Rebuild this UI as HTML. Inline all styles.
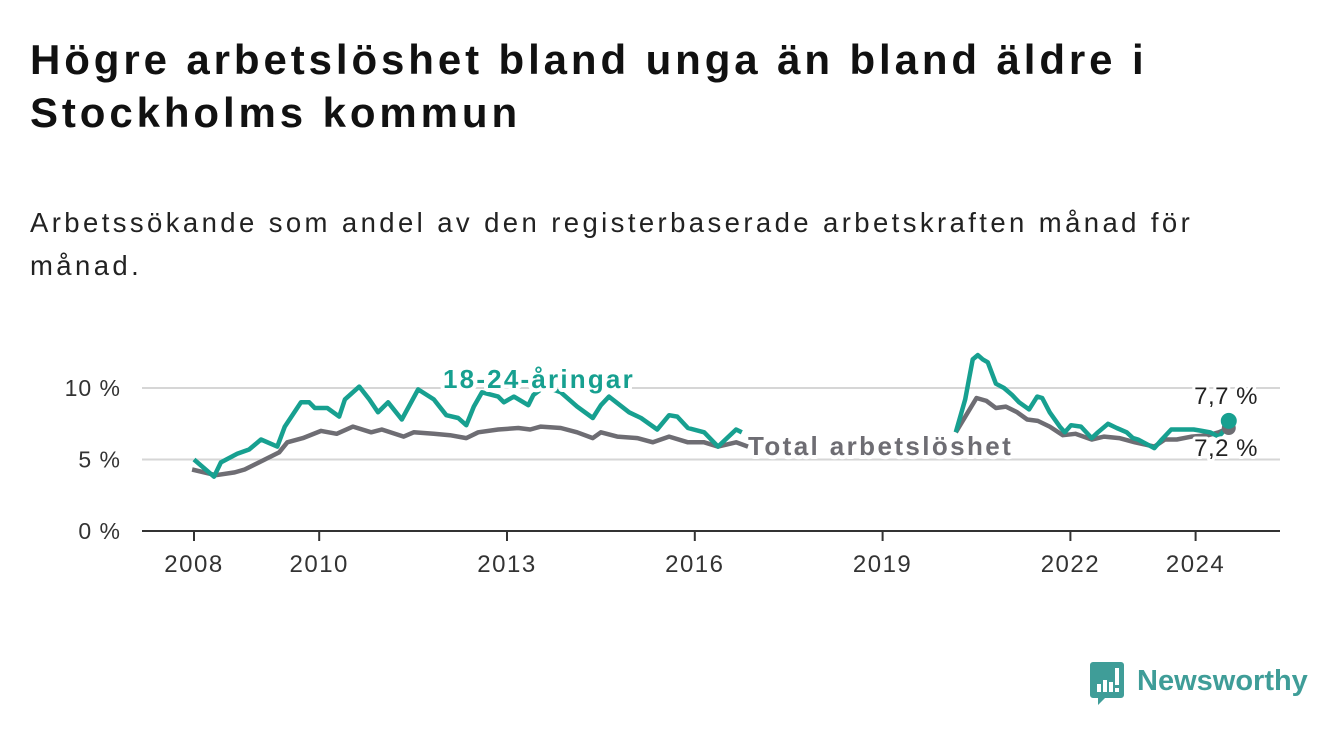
<!DOCTYPE html>
<html><head><meta charset="utf-8">
<style>
body{margin:0;background:#fff;width:1340px;height:734px;overflow:hidden;font-family:"Liberation Sans",sans-serif;}
#title{position:absolute;left:30px;top:33px;font-size:42px;font-weight:bold;line-height:53px;color:#111;margin:0;letter-spacing:3.9px;}
#subtitle{position:absolute;left:30px;top:201px;font-size:27.5px;line-height:43px;color:#222;margin:0;letter-spacing:3.4px;}
svg{position:absolute;left:0;top:0;}
</style></head>
<body>
<h1 id="title">Högre arbetslöshet bland unga än bland äldre i<br>Stockholms kommun</h1>
<p id="subtitle">Arbetssökande som andel av den registerbaserade arbetskraften månad för<br>månad.</p>
<svg id="chart" width="1340" height="734"></svg>
<script>
const yTicks=[0,5,10];
const yTickLabels=["0 %","5 %","10 %"];
const xTicks=[2008,2010,2013,2016,2019,2022,2024];
const youthYears=[2008.0,2008.32,2008.43,2008.69,2008.88,2009.07,2009.33,2009.45,2009.71,2009.84,2009.93,2010.13,2010.32,2010.41,2010.64,2010.8,2010.94,2011.1,2011.32,2011.58,2011.83,2012.03,2012.22,2012.35,2012.47,2012.6,2012.86,2012.95,2013.11,2013.34,2013.42,2013.6,2013.86,2014.12,2014.37,2014.5,2014.63,2014.95,2015.14,2015.4,2015.59,2015.72,2015.89,2016.15,2016.37,2016.66,2016.75,null,2020.17,2020.32,2020.44,2020.52,2020.6,2020.68,2020.81,2020.94,2021.07,2021.18,2021.34,2021.47,2021.55,2021.67,2021.83,2021.91,2022.01,2022.17,2022.34,2022.44,2022.6,2022.74,2022.9,2023.0,2023.08,2023.34,2023.46,2023.61,2023.83,2023.97,2024.1,2024.23,2024.37,2024.47,2024.53];
const youthValues=[5.0,3.8,4.8,5.4,5.7,6.4,5.9,7.3,9.0,9.0,8.6,8.6,8.0,9.2,10.1,9.2,8.3,9.0,7.8,9.9,9.2,8.1,7.9,7.4,8.7,9.7,9.4,9.0,9.4,8.8,9.5,10.1,9.7,8.7,7.9,8.8,9.4,8.3,7.9,7.1,8.1,8.0,7.2,6.9,5.9,7.1,6.9,null,6.9,9.2,12.0,12.3,12.0,11.8,10.3,10.0,9.5,9.0,8.5,9.4,9.3,8.3,7.3,6.9,7.4,7.3,6.5,6.9,7.5,7.2,6.9,6.5,6.4,5.8,6.4,7.1,7.1,7.1,7.0,6.9,6.6,7.1,7.7];
const totalYears=[2007.97,2008.35,2008.65,2008.81,2009.04,2009.36,2009.49,2009.74,2010.03,2010.28,2010.54,2010.83,2011.0,2011.35,2011.51,2011.83,2012.09,2012.35,2012.54,2012.86,2013.18,2013.37,2013.54,2013.86,2014.12,2014.37,2014.5,2014.76,2015.08,2015.33,2015.59,2015.89,2016.15,2016.37,2016.66,2016.85,null,2020.17,2020.5,2020.66,2020.81,2020.97,2021.15,2021.31,2021.48,2021.67,2021.88,2022.08,2022.34,2022.54,2022.78,2023.03,2023.34,2023.51,2023.7,2023.94,2024.2,2024.37,2024.53];
const totalValues=[4.3,3.9,4.1,4.3,4.8,5.5,6.2,6.5,7.0,6.8,7.3,6.9,7.1,6.6,6.9,6.8,6.7,6.5,6.9,7.1,7.2,7.1,7.3,7.2,6.9,6.5,6.9,6.6,6.5,6.2,6.6,6.2,6.2,5.9,6.2,5.9,null,6.9,9.3,9.1,8.6,8.7,8.3,7.8,7.7,7.3,6.7,6.8,6.4,6.6,6.5,6.2,5.9,6.4,6.4,6.6,6.7,6.9,7.2];

const NS="http://www.w3.org/2000/svg";
const svg=document.getElementById('chart');
const X=y=>194+(y-2008)*62.6;
const Y=v=>531-v*14.3;
function mk(t,a,p){const e=document.createElementNS(NS,t);for(const k in a)e.setAttribute(k,a[k]);(p||svg).appendChild(e);return e;}

yTicks.forEach((v,i)=>{
  if(v>0){const g=mk('line',{x1:142,x2:1280,y1:Y(v),y2:Y(v),stroke:'#d6d6d6','stroke-width':2});
  
  }
  const t=mk('text',{x:121,y:Y(v)+8,'text-anchor':'end','font-size':23,'letter-spacing':1,fill:'#333','font-family':'Liberation Sans, sans-serif'});
  t.textContent=yTickLabels[i];
  
  
});
const ax=mk('line',{x1:142,x2:1280,y1:531,y2:531,stroke:'#333','stroke-width':2});


xTicks.forEach(yr=>{
  const tk=mk('line',{x1:X(yr),x2:X(yr),y1:531,y2:541,stroke:'#333','stroke-width':2});
  
  
  const t=mk('text',{x:X(yr),y:572,'text-anchor':'middle','font-size':24,'letter-spacing':1.5,fill:'#333','font-family':'Liberation Sans, sans-serif'});
  t.textContent=yr;
  
  
});
function pathD(xs,vs){let d='',pen=false;xs.forEach((x,i)=>{if(x===null||vs[i]===null){pen=false;return;}d+=(pen?'L':'M')+X(x).toFixed(1)+','+Y(vs[i]).toFixed(1);pen=true;});return d;}
const pt=mk('path',{d:pathD(totalYears,totalValues),fill:'none',stroke:'#6e6d73','stroke-width':4.5,'stroke-linejoin':'round'});


const py=mk('path',{d:pathD(youthYears,youthValues),fill:'none',stroke:'#17a090','stroke-width':4.5,'stroke-linejoin':'round'});


const lt=totalYears.length-1, ly=youthYears.length-1;
const d1=mk('circle',{cx:X(totalYears[lt]),cy:Y(totalValues[lt]),r:7,fill:'#6e6d73'});


const d2=mk('circle',{cx:X(youthYears[ly]),cy:Y(youthValues[ly]),r:8,fill:'#17a090'});


function lab(txt,x,y,col,name,bold,anchor,ls){const t=mk('text',{x:x,y:y,'font-size':bold?26:24,'font-weight':bold?'bold':'normal','letter-spacing':ls,fill:col,stroke:'#fff','stroke-width':bold?8:6,'paint-order':'stroke','stroke-linejoin':'round','text-anchor':anchor||'start','font-family':'Liberation Sans, sans-serif'});t.textContent=txt;}
lab('18-24-åringar',443,388,'#17a090','youth-series-label',true,'start',2.2);
lab('Total arbetslöshet',748,455,'#6e6d73','total-series-label',true,'start',2.4);
lab('7,7 %',1258,404,'#222','youth-end-value',false,'end',0.5);
lab('7,2 %',1258,456,'#222','total-end-value',false,'end',0.5);
// logo
const lg=mk('g',{});


mk('path',{d:'M1093,662 h28 a3,3 0 0 1 3,3 v30 a3,3 0 0 1 -3,3 h-16 l-7,7 v-7 h-5 a3,3 0 0 1 -3,-3 v-30 a3,3 0 0 1 3,-3z',fill:'#3f9d98'},lg);
mk('rect',{x:1097,y:684,width:4,height:8,fill:'#fff'},lg);
mk('rect',{x:1103,y:680,width:4,height:12,fill:'#fff'},lg);
mk('rect',{x:1109,y:682,width:4,height:10,fill:'#fff'},lg);
mk('rect',{x:1115,y:668,width:4,height:17,fill:'#fff'},lg);
mk('rect',{x:1115,y:688,width:4,height:4,fill:'#fff'},lg);
const lt2=mk('text',{x:1137,y:690,'font-size':29,'font-weight':'bold',fill:'#3f9d98','font-family':'Liberation Sans, sans-serif'},lg);
lt2.textContent='Newsworthy';
</script>
</body></html>
